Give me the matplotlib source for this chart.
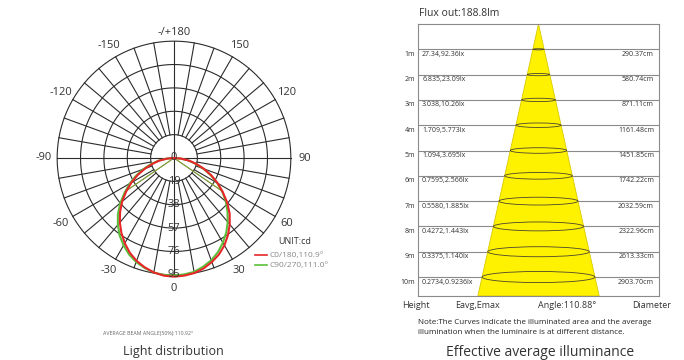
import numpy as np
import matplotlib
matplotlib.use('agg')
import matplotlib.pyplot as plt
from matplotlib.patches import Polygon, Ellipse

plt.rcParams['font.family'] = ['Open Sans', 'DejaVu Sans']

# ---- light distribution data (cd) ----
angles = np.arange(-90, 95, 5)
c0_180 = [0, 5.5, 12, 18, 25, 32.5, 40, 47.5, 55, 62, 68.5, 74.5, 80, 85, 89, 92, 94.5, 96,
          96.5,
          96, 95, 93, 90, 86.5, 82, 76.5, 70.5, 64, 56.5, 48.5, 41, 33.5, 26, 19, 12.5, 6, 0]
c90_270 = [0, 6, 13, 19.5, 26.5, 34, 41.5, 49, 57, 64.5, 71, 77, 82, 86.5, 90, 92.5, 94.5, 95.5,
           95.5,
           95, 94, 91.5, 88.5, 84.5, 79.5, 74, 68, 61.5, 55, 48, 40.5, 33, 25.5, 18.5, 12, 5.5, 0]
beam_c0 = 110.9
beam_c90 = 111.0
r_ticks = [0, 19, 38, 57, 76, 95]
theta_labels = [0, 30, 60, 90, 120, 150, 180, -150, -120, -90, -60, -30]

# ---- illuminance data ----
heights = [1, 2, 3, 4, 5, 6, 7, 8, 9, 10]
lux = ['27.34,92.36lx', '6.835,23.09lx', '3.038,10.26lx', '1.709,5.773lx', '1.094,3.695lx',
       '0.7595,2.566lx', '0.5580,1.885lx', '0.4272,1.443lx', '0.3375,1.140lx', '0.2734,0.9236lx']
diameters = [290.37, 580.74, 871.11, 1161.48, 1451.85, 1742.22, 2032.59, 2322.96, 2613.33, 2903.70]

W, H = 684, 360
fig = plt.figure(figsize=(W / 100, H / 100), dpi=100)

# ---------------- polar plot ----------------
cx, cy, R = 174, 158, 123
ax = fig.add_axes([(cx - R) / W, (H - cy - R) / H, 2 * R / W, 2 * R / H], projection='polar')
ax.set_theta_zero_location('S')
ax.set_theta_direction(1)
ax.set_ylim(0, 100)
ax.axis('off')

gcol = '#2b2b2b'
t = np.linspace(0, 2 * np.pi, 400)
for r in r_ticks[1:]:
    ax.plot(t, np.full_like(t, r), color=gcol, lw=0.8)
for a in range(0, 360, 10):
    r0 = 0 if a % 90 == 0 else 19
    ax.plot([np.deg2rad(a)] * 2, [r0, 95], color=gcol, lw=0.8)

th = np.deg2rad(angles)
ax.plot(th, c0_180, color='#e8262a', lw=1.5, zorder=5)
ax.plot(th, c90_270, color='#5cbf3a', lw=1.5, zorder=4)
for beam, vals, col in [(beam_c0, c0_180, '#e8262a'), (beam_c90, c90_270, '#5cbf3a')]:
    for s in (-1, 1):
        a = s * beam / 2
        ax.plot([0, np.deg2rad(a)], [0, np.interp(a, angles, vals)], color=col, lw=0.7, zorder=4)

for r in r_ticks:
    ax.text(0, r, str(r), ha='center', va='center', fontsize=8, color='#333333', zorder=6)
for a in theta_labels:
    lab = '-/+180' if a == 180 else str(a)
    rr = 102 if a == 180 else 106
    ax.text(np.deg2rad(a), rr, lab, ha='center', va='center', fontsize=8, color='#333333')

fig.text(278 / W, 1 - 242 / H, 'UNIT:cd', fontsize=6.5, color='#333333', va='center')
fig.add_artist(plt.Line2D([255 / W, 267 / W], [1 - 255 / H] * 2, color='#e8262a', lw=1.2))
fig.add_artist(plt.Line2D([255 / W, 267 / W], [1 - 265 / H] * 2, color='#5cbf3a', lw=1.2))
fig.text(269 / W, 1 - 255 / H, 'C0/180,110.9°', fontsize=6, color='#888888', va='center')
fig.text(269 / W, 1 - 265 / H, 'C90/270,111.0°', fontsize=6, color='#888888', va='center')

fig.text(148 / W, 1 - 333 / H, 'AVERAGE BEAM ANGLE(50%):110.92°', fontsize=3.8, color='#666666',
         ha='center', va='center')
fig.text(173 / W, 1 - 352 / H, 'Light distribution', fontsize=9, color='#333333',
         ha='center', va='center')

# ---------------- illuminance cone ----------------
bx0, bx1, by0, by1 = 418, 659, 24, 296
ax2 = fig.add_axes([bx0 / W, (H - by1) / H, (bx1 - bx0) / W, (by1 - by0) / H])
ymax = 10.75
ax2.set_ylim(ymax, 0)
ax2.set_xlim(-3100, 3100)
ax2.set_xticks([])
ax2.set_yticks([])
for sp in ax2.spines.values():
    sp.set_color('#8a8a8a')
    sp.set_linewidth(0.8)

ax2.hlines(heights, -3100, 3100, color='#8a8a8a', lw=0.8, zorder=1)
hw = diameters[-1] / 2 / heights[-1] * ymax
ax2.add_patch(Polygon([(0, 0), (-hw, ymax), (hw, ymax)], closed=True, facecolor='#fff200',
                      edgecolor='#d8c800', lw=0.6, zorder=2))
for h, d in zip(heights, diameters):
    ax2.add_patch(Ellipse((0, h), d, 0.044 * h, facecolor='none', edgecolor='#4a4530',
                          lw=0.6, zorder=3))

ytr = ax2.get_yaxis_transform()
for h, lx, d in zip(heights, lux, diameters):
    ax2.text(-0.012, h + 0.2, f'{h}m', transform=ytr, ha='right', va='center', fontsize=5,
             color='#333333')
    ax2.text(0.017, h + 0.2, lx, transform=ytr, ha='left', va='center', fontsize=5,
             color='#333333')
    ax2.text(0.979, h + 0.2, f'{d:.2f}cm', transform=ytr, ha='right', va='center', fontsize=5,
             color='#333333')

fig.text(419 / W, 1 - 14 / H, 'Flux out:188.8lm', fontsize=7.5, color='#333333', va='center')
for x, s in [(416, 'Height'), (478, 'Eavg,Emax'), (567, 'Angle:110.88°'), (652, 'Diameter')]:
    fig.text(x / W, 1 - 306 / H, s, fontsize=6.5, color='#333333', ha='center', va='center')
fig.text(418 / W, 1 - 323 / H, 'Note:The Curves indicate the illuminated area and the average',
         fontsize=5.8, color='#222222', va='center')
fig.text(418 / W, 1 - 332 / H, 'illumination when the luminaire is at different distance.',
         fontsize=5.8, color='#222222', va='center')
fig.text(540 / W, 1 - 352 / H, 'Effective average illuminance', fontsize=10, color='#333333',
         ha='center', va='center')

fig.savefig('out.png', dpi=100)
